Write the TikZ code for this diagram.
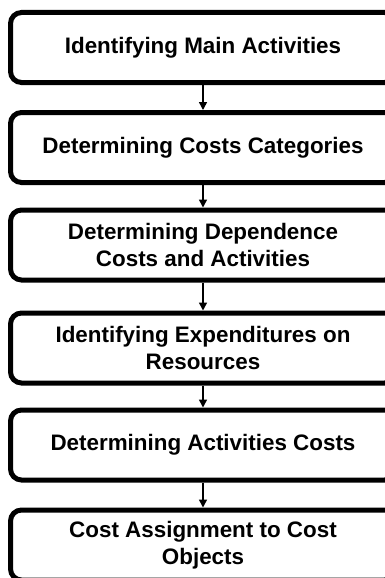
\documentclass[tikz,border=0pt]{standalone}
\usepackage{fontspec}
\setmainfont{Liberation Sans}
\usepackage{tikz}
\usetikzlibrary{arrows.meta}
\tikzstyle{step box} = [draw, line width=5pt, rounded corners=11pt, minimum width=385pt, minimum height=70pt, align=center, font=\bfseries\fontsize{22.4}{26.5}\selectfont]
\tikzstyle{arrow} = [line width=1.5pt, -{Triangle[width=8pt,length=8pt]}]

\begin{document}
\begin{tikzpicture}[x=1pt, y=-1pt]
	\useasboundingbox (0,0) rectangle (385,578);
	\node[step box](ident) at (203, 47.5){Identifying Main Activities};
	\node[step box](categ) at (203, 147.5){Determining Costs Categories};
	\node[step box](depend) at (203, 245){Determining Dependence\\Costs and Activities};
	\node[step box](expend) at (203, 348){Identifying Expenditures on\\Resources};
	\node[step box](actcost) at (203, 445){Determining Activities Costs};
	\node[step box](assign) at (203, 545){Cost Assignment to Cost\\Objects};
	\draw[arrow](ident) -- (categ);
	\draw[arrow](categ) -- (depend);
	\draw[arrow](depend) -- (expend);
	\draw[arrow](expend) -- (actcost);
	\draw[arrow](actcost) -- (assign);
\end{tikzpicture}
\end{document}
